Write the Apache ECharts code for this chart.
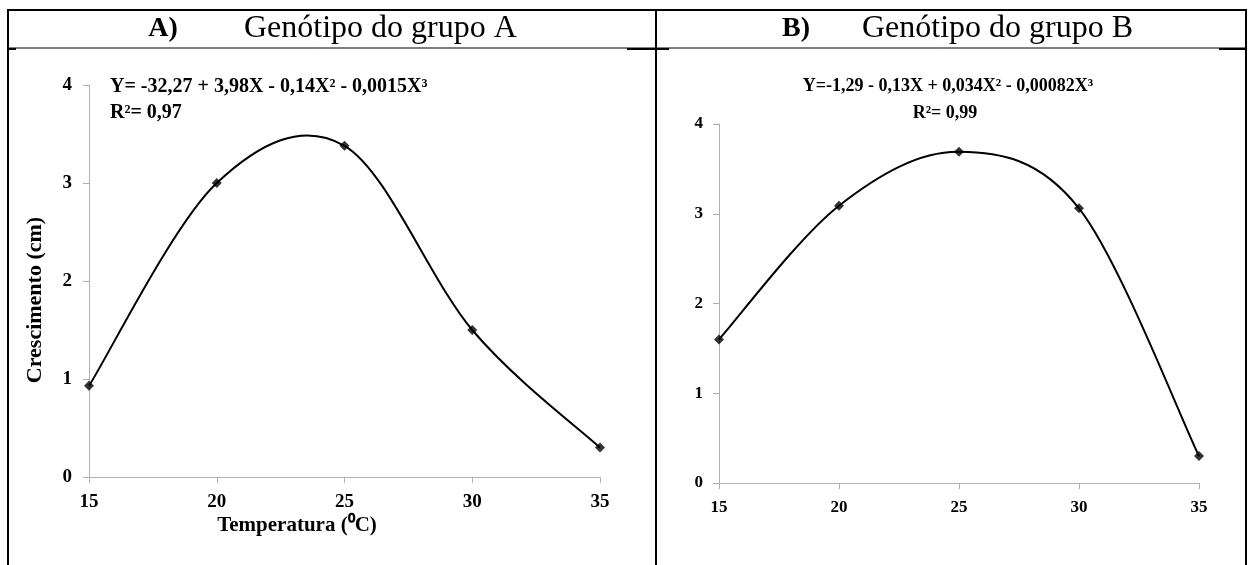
<!DOCTYPE html>
<html><head><meta charset="utf-8">
<script src="https://cdn.jsdelivr.net/npm/echarts@6/dist/echarts.min.js"></script>
<style>html,body{margin:0;padding:0;background:#fff}#c{width:1248px;height:565px}</style>
</head><body><div id="c"></div>
<script>
const temperatures = [15, 20, 25, 30, 35];
const growthA = [0.93, 3.0, 3.38, 1.5, 0.3];
const growthB = [1.6, 3.09, 3.69, 3.06, 0.3];
const xTicks = [15, 20, 25, 30, 35];
const xTickLabels = ['15', '20', '25', '30', '35'];
const yTicks = [0, 1, 2, 3, 4];
const yTickLabels = ['0', '1', '2', '3', '4'];
const panelLabels = ['A)', 'B)'];
const panelTitles = ['Genótipo do grupo A', 'Genótipo do grupo B'];
const equationA = ['Y= -32,27 + 3,98X - 0,14X² - 0,0015X³', 'R²= 0,97'];
const equationB = ['Y=-1,29 - 0,13X + 0,034X² - 0,00082X³', 'R²= 0,99'];
const xAxisTitle = 'Temperatura (⁰C)';
const yAxisTitle = 'Crescimento (cm)';

const FONT = 'Liberation Serif';
const chart = echarts.init(document.getElementById('c'), null, {renderer: 'canvas'});

function xAxisCfg(gi, fs, margin) {
  return {
    type: 'value', gridIndex: gi, min: xTicks[0], max: xTicks[xTicks.length - 1], interval: 5,
    axisLine: {lineStyle: {color: '#b0b0b0', width: 1}},
    axisTick: {show: true, inside: false, length: 6, lineStyle: {color: '#b0b0b0'}},
    splitLine: {show: false},
    axisLabel: {color: '#000', fontFamily: FONT, fontWeight: 'bold', fontSize: fs, margin: margin,
      formatter: v => xTickLabels[xTicks.indexOf(v)] ?? ''}
  };
}
function yAxisCfg(gi, fs, margin) {
  return {
    type: 'value', gridIndex: gi, min: yTicks[0], max: yTicks[yTicks.length - 1], interval: 1,
    axisLine: {show: true, lineStyle: {color: '#b0b0b0', width: 1}},
    axisTick: {show: true, inside: false, length: 6, lineStyle: {color: '#b0b0b0'}},
    splitLine: {show: false},
    axisLabel: {color: '#000', fontFamily: FONT, fontWeight: 'bold', fontSize: fs, margin: margin,
      formatter: v => yTickLabels[yTicks.indexOf(v)] ?? ''}
  };
}
// Smoothed curve (Catmull-Rom style Bezier, as spreadsheet "smoothed line"), mapped through the axes via api.coord
function curveSeries(gi, vals) {
  return {
    type: 'custom', xAxisIndex: gi, yAxisIndex: gi,
    data: temperatures.map((t, i) => [t, vals[i]]),
    encode: {x: 0, y: 1},
    silent: true, z: 2,
    renderItem: function (params, api) {
      const i = params.dataIndex;
      const n = temperatures.length;
      if (i >= n - 1) return null;
      const P = k => api.coord([temperatures[Math.max(0, Math.min(n - 1, k))], vals[Math.max(0, Math.min(n - 1, k))]]);
      const p0 = P(i - 1), p1 = P(i), p2 = P(i + 1), p3 = P(i + 2);
      const c1 = [p1[0] + (p2[0] - p0[0]) / 6, p1[1] + (p2[1] - p0[1]) / 6];
      const c2 = [p2[0] - (p3[0] - p1[0]) / 6, p2[1] - (p3[1] - p1[1]) / 6];
      return {
        type: 'bezierCurve',
        shape: {x1: p1[0], y1: p1[1], x2: p2[0], y2: p2[1], cpx1: c1[0], cpy1: c1[1], cpx2: c2[0], cpy2: c2[1]},
        style: {stroke: '#000', lineWidth: 2, fill: null}
      };
    },
    animation: false
  };
}
function pointSeries(gi, vals) {
  return {
    type: 'scatter', xAxisIndex: gi, yAxisIndex: gi,
    data: temperatures.map((t, i) => [t, vals[i]]),
    symbol: 'diamond', symbolSize: 10, z: 3,
    itemStyle: {color: '#000'},
    animation: false
  };
}
function line(x1, y1, x2, y2, w) {
  return {type: 'line', shape: {x1, y1, x2, y2}, style: {stroke: '#000', lineWidth: w}, silent: true};
}
function text(x, y, t, fs, bold, align, rot) {
  return {type: 'text', x, y, rotation: rot || 0, style: {text: t, fontFamily: FONT, fontSize: fs, fontWeight: bold ? 'bold' : 'normal',
    fill: '#000', textAlign: align || 'left', textVerticalAlign: 'middle'}, silent: true};
}

const option = {
  backgroundColor: '#fff',
  animation: false,
  grid: [
    {left: 89, right: 648, top: 85, bottom: 88},
    {left: 719, right: 49, top: 124, bottom: 82}
  ],
  xAxis: [xAxisCfg(0, 19, 16), xAxisCfg(1, 17, 16)],
  yAxis: [yAxisCfg(0, 19, 17), yAxisCfg(1, 17, 16)],
  series: [curveSeries(0, growthA), pointSeries(0, growthA), curveSeries(1, growthB), pointSeries(1, growthB)],
  graphic: [
    line(7, 10, 1247, 10, 2),
    line(8, 9, 8, 565, 2),
    line(656, 9, 656, 565, 2),
    line(1246, 9, 1246, 565, 2),
    line(8, 48, 1246, 48, 1),
    line(8, 49, 16, 49, 2),
    line(627, 49, 669, 49, 2),
    line(1219, 49, 1246, 49, 2),
    text(163, 29, panelLabels[0], 28, true, 'center'),
    text(244, 29, panelTitles[0], 32, false, 'left'),
    text(796, 29, panelLabels[1], 28, true, 'center'),
    text(862, 29, panelTitles[1], 32, false, 'left'),
    text(110, 87, equationA[0], 20, true, 'left'),
    text(110, 113, equationA[1], 20, true, 'left'),
    text(948, 86, equationB[0], 18, true, 'center'),
    text(945, 113, equationB[1], 18, true, 'center'),
    text(297, 526, xAxisTitle, 21, true, 'center'),
    text(35, 300, yAxisTitle, 22, true, 'center', Math.PI / 2)
  ]
};
chart.setOption(option);
</script></body></html>
